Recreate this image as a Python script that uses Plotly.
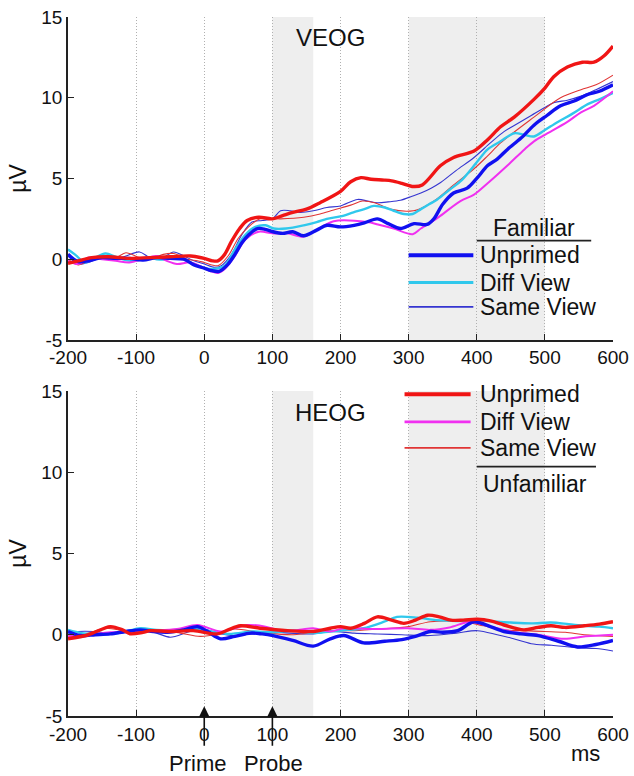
import plotly.graph_objects as go

# ---------------- DATA ----------------
# VEOG (top panel)
veog_fam_unp_t = [-200,-185,-170,-150,-130,-110,-90,-70,-50,-30,-15,0,10,22,35,45,55,65,78,90,101,115,130,146,165,180,200,220,235,254,270,288,308,327,337,350,366,386,400,416,430,445,465,484,503,523,543,563,580,600]
veog_fam_unp_v = [0.3,-0.15,-0.1,0.1,0.05,0.05,-0.05,0.1,0.05,0.0,-0.35,-0.55,-0.7,-0.75,-0.3,0.3,1.0,1.5,1.9,1.85,1.7,1.6,1.7,1.45,1.8,2.1,2.0,2.1,2.25,2.5,2.2,1.9,2.2,2.15,2.5,3.4,4.1,4.4,5.0,5.8,6.2,6.8,7.5,8.3,8.9,9.5,9.8,10.2,10.4,10.8]

veog_fam_diff_t = [-200,-190,-175,-160,-145,-130,-115,-100,-85,-70,-55,-40,-25,-10,0,15,30,45,60,75,90,102,120,146,165,180,200,219,235,249,265,278,293,306,318,330,342,360,378,400,416,435,455,470,484,500,519,540,563,580,600]
veog_fam_diff_v = [0.6,0.3,-0.2,0.1,0.35,0.15,-0.05,-0.1,0.1,0.0,0.0,0.15,-0.1,-0.4,-0.55,-0.6,-0.4,0.6,1.5,2.0,2.1,1.9,1.9,2.1,2.3,2.5,2.65,2.9,3.1,3.3,3.2,3.0,2.8,2.8,3.1,3.4,3.7,4.3,4.9,6.0,6.8,7.3,7.8,7.7,7.6,8.0,8.5,9.0,9.6,9.9,10.3]

veog_fam_same_t = [-200,-185,-170,-150,-130,-115,-95,-80,-65,-45,-30,-15,0,15,25,40,55,70,85,100,112,126,141,160,180,200,225,240,254,270,288,305,318,333,347,370,396,420,440,460,480,500,514,533,553,575,600]
veog_fam_same_v = [0.2,-0.3,-0.2,0.1,0.0,0.2,0.45,0.1,0.0,0.45,0.2,-0.1,-0.3,-0.5,-0.4,0.3,1.5,2.3,2.4,2.5,3.0,3.0,2.9,3.0,3.2,3.3,3.7,3.6,3.5,3.55,3.65,3.9,4.1,4.4,4.75,5.5,6.3,7.2,7.9,8.4,8.9,9.4,9.7,9.85,10.1,10.5,11.0]

veog_unf_unp_t = [-200,-185,-165,-140,-110,-80,-50,-20,0,12,20,30,40,52,63,80,100,115,130,150,170,200,215,230,245,264,275,290,307,320,347,366,396,416,435,455,484,500,513,533,555,572,587,600]
veog_unf_unp_v = [-0.25,-0.1,0.1,0.15,0.05,0.1,0.15,0.2,0.05,-0.1,-0.1,0.3,1.1,1.9,2.4,2.6,2.5,2.7,2.9,3.1,3.5,4.2,4.8,5.05,4.95,4.9,4.85,4.7,4.5,4.6,5.8,6.3,6.7,7.4,8.2,8.8,9.9,10.6,11.3,11.9,12.2,12.2,12.6,13.2]

veog_unf_diff_t = [-200,-185,-170,-150,-130,-110,-90,-70,-55,-40,-20,0,10,20,30,45,60,80,100,122,146,165,190,239,255,278,306,318,337,347,376,396,416,445,470,484,500,533,553,572,600]
veog_unf_diff_v = [-0.1,-0.3,0.1,0.0,-0.1,-0.2,0.0,0.2,-0.1,-0.3,-0.2,-0.55,-0.75,-0.85,-0.6,0.2,1.2,1.7,1.6,1.6,1.4,1.8,2.35,2.3,2.15,1.9,1.55,1.9,2.4,2.7,3.6,4.0,4.7,5.8,6.8,7.3,7.7,8.5,9.1,9.5,10.4]

veog_unf_same_t = [-200,-185,-170,-150,-130,-115,-95,-80,-60,-45,-25,-10,0,20,35,50,65,82,112,146,170,190,215,232,250,273,307,325,342,366,396,416,435,484,523,553,575,600]
veog_unf_same_v = [0.0,-0.35,-0.1,0.2,0.1,0.4,0.1,0.0,0.3,0.35,0.0,-0.1,-0.2,-0.4,0.2,1.3,2.0,2.5,2.5,2.6,2.8,3.05,3.35,3.6,3.5,3.1,3.0,3.3,3.75,4.6,5.6,6.4,7.2,8.8,10.0,10.5,10.8,11.4]

# HEOG (bottom panel)
heog_fam_unp_t = [-200,-182,-160,-138,-115,-94,-75,-54,-30,-10,5,24,45,68,85,101,130,160,185,205,234,265,290,310,332,350,372,396,420,440,465,490,520,548,575,600]
heog_fam_unp_v = [0.2,-0.05,0.0,0.05,0.2,0.3,0.2,0.15,0.3,0.5,0.2,-0.25,-0.1,0.1,0.05,-0.05,-0.35,-0.7,-0.25,-0.05,-0.5,-0.4,-0.3,-0.1,0.2,0.15,0.25,0.8,0.5,0.2,0.05,-0.05,-0.4,-0.75,-0.6,-0.35]

heog_fam_diff_t = [-200,-180,-160,-138,-115,-94,-70,-40,-16,10,34,50,72,100,131,160,185,210,234,264,283,313,340,370,401,430,450,480,509,535,558,580,600]
heog_fam_diff_v = [0.3,0.1,0.05,0.05,0.2,0.4,0.3,0.25,0.35,0.2,0.05,0.1,0.2,0.15,0.25,0.1,0.2,0.3,0.4,0.8,1.1,1.05,0.9,0.85,0.9,0.8,0.75,0.7,0.75,0.65,0.55,0.5,0.4]

heog_fam_same_t = [-200,-185,-163,-140,-115,-94,-70,-50,-25,-6,20,43,70,93,125,160,185,220,254,290,332,370,401,430,450,480,510,548,575,600]
heog_fam_same_v = [0.1,0.2,0.2,0.1,0.2,0.3,0.1,-0.15,0.15,0.4,0.1,-0.05,0.05,0.2,0.1,0.05,0.2,0.1,0.05,0.0,-0.05,0.1,0.25,0.0,-0.2,-0.55,-0.65,-0.8,-0.85,-1.0]

heog_unf_unp_t = [-200,-170,-138,-120,-109,-90,-79,-50,-16,19,35,53,82,122,160,185,200,215,235,254,275,293,310,328,345,362,380,401,420,440,469,490,509,530,558,580,600]
heog_unf_unp_v = [-0.25,0.0,0.5,0.3,0.06,0.15,0.25,0.2,0.25,0.05,0.3,0.55,0.4,0.25,0.2,0.4,0.5,0.4,0.7,1.1,0.9,0.7,0.9,1.2,1.1,0.9,0.9,0.95,0.85,0.6,0.3,0.45,0.55,0.45,0.55,0.65,0.8]

heog_unf_diff_t = [-200,-170,-138,-100,-75,-40,-10,24,45,63,90,112,140,160,185,205,244,298,332,360,391,420,450,490,528,560,600]
heog_unf_diff_v = [-0.1,0.0,0.15,0.2,0.25,0.35,0.6,0.2,0.4,0.6,0.5,0.25,0.3,0.4,0.2,0.4,0.35,0.4,0.3,0.45,0.8,0.5,0.2,0.0,-0.25,-0.1,0.0]

heog_unf_same_t = [-200,-170,-145,-113,-90,-65,-35,-6,20,43,82,131,180,220,259,300,332,381,410,440,470,499,530,558,600]
heog_unf_same_v = [-0.1,0.1,0.4,0.2,0.15,0.25,0.1,-0.1,0.05,0.35,0.15,0.0,0.25,0.25,0.35,0.5,0.8,0.8,0.55,0.3,0.25,0.2,0.15,0.0,-0.1]

x_ticks = [-200, -100, 0, 100, 200, 300, 400, 500, 600]
x_tick_labels = ["-200", "-100", "0", "100", "200", "300", "400", "500", "600"]
y_ticks = [-5, 0, 5, 10, 15]
y_tick_labels = ["-5", "0", "5", "10", "15"]
shade_windows = [(100, 160), (300, 500)]
cond_labels = ["Unprimed", "Diff View", "Same View"]

# ---------------- STYLE ----------------
FONT = "Liberation Sans, Arial, sans-serif"
C_BLUE = "#1010f0"
C_CYAN = "#30c8ec"
C_BLUE_THIN = "#3535d0"
C_RED = "#f01515"
C_MAG = "#f030f0"
C_RED_THIN = "#e03535"

styles = {
    "fam_same": dict(color=C_BLUE_THIN, width=1.1),
    "unf_same": dict(color=C_RED_THIN, width=1.1),
    "fam_diff": dict(color=C_CYAN, width=2.4),
    "unf_diff": dict(color=C_MAG, width=2.0),
    "fam_unp": dict(color=C_BLUE, width=3.4),
    "unf_unp": dict(color=C_RED, width=3.4),
}

fig = go.Figure()

panels = [
    ("x", "y", {
        "fam_same": (veog_fam_same_t, veog_fam_same_v),
        "unf_same": (veog_unf_same_t, veog_unf_same_v),
        "fam_diff": (veog_fam_diff_t, veog_fam_diff_v),
        "unf_diff": (veog_unf_diff_t, veog_unf_diff_v),
        "fam_unp": (veog_fam_unp_t, veog_fam_unp_v),
        "unf_unp": (veog_unf_unp_t, veog_unf_unp_v),
    }),
    ("x2", "y2", {
        "fam_same": (heog_fam_same_t, heog_fam_same_v),
        "unf_same": (heog_unf_same_t, heog_unf_same_v),
        "fam_diff": (heog_fam_diff_t, heog_fam_diff_v),
        "unf_diff": (heog_unf_diff_t, heog_unf_diff_v),
        "fam_unp": (heog_fam_unp_t, heog_fam_unp_v),
        "unf_unp": (heog_unf_unp_t, heog_unf_unp_v),
    }),
]

for xa, ya, series in panels:
    for key in ["fam_same", "unf_same", "fam_diff", "unf_diff", "fam_unp", "unf_unp"]:
        t, v = series[key]
        fig.add_trace(go.Scatter(x=t, y=v, mode="lines", xaxis=xa, yaxis=ya,
                                 line=dict(color=styles[key]["color"], width=styles[key]["width"],
                                           shape="spline", smoothing=0.9),
                                 showlegend=False, hoverinfo="skip"))

shapes = []
for yref in ["y domain", "y2 domain"]:
    xref = "x" if yref.startswith("y ") else "x2"
    for a, b in shade_windows:
        shapes.append(dict(type="rect", xref=xref, yref=yref, x0=a, x1=b, y0=0, y1=1,
                           fillcolor="#eeeeee", line=dict(width=0), layer="below"))

annotations = []
# panel titles
annotations.append(dict(x=185, y=13.7, xref="x", yref="y", text="VEOG", showarrow=False,
                        font=dict(family=FONT, size=24, color="#111")))
annotations.append(dict(x=185, y=13.7, xref="x2", yref="y2", text="HEOG", showarrow=False,
                        font=dict(family=FONT, size=24, color="#111")))

LEG_FONT = dict(family=FONT, size=23, color="#111")
# top legend (Familiar)
top_rows = [0.25, -1.45, -2.95]
top_keys = ["fam_unp", "fam_diff", "fam_same"]
for lbl, yv, key in zip(cond_labels, top_rows, top_keys):
    shapes.append(dict(type="line", xref="x", yref="y", x0=300, x1=395, y0=yv, y1=yv,
                       line=dict(color=styles[key]["color"], width=styles[key]["width"] + 0.6)))
    annotations.append(dict(x=402, y=yv, xref="x", yref="y", text=lbl, showarrow=False,
                            xanchor="left", yanchor="middle", font=LEG_FONT))
annotations.append(dict(x=484, y=1.95, xref="x", yref="y", text="Familiar", showarrow=False,
                        xanchor="center", yanchor="middle", font=LEG_FONT))
shapes.append(dict(type="line", xref="x", yref="y", x0=400, x1=568, y0=1.15, y1=1.15,
                   line=dict(color="#222", width=1.8)))

# bottom legend (Unfamiliar)
bot_rows = [14.8, 13.1, 11.5]
bot_keys = ["unf_unp", "unf_diff", "unf_same"]
for lbl, yv, key in zip(cond_labels, bot_rows, bot_keys):
    shapes.append(dict(type="line", xref="x2", yref="y2", x0=294, x1=391, y0=yv, y1=yv,
                       line=dict(color=styles[key]["color"], width=styles[key]["width"] + 0.6)))
    annotations.append(dict(x=402, y=yv, xref="x2", yref="y2", text=lbl, showarrow=False,
                            xanchor="left", yanchor="middle", font=LEG_FONT))
shapes.append(dict(type="line", xref="x2", yref="y2", x0=400, x1=575, y0=10.35, y1=10.35,
                   line=dict(color="#222", width=1.8)))
annotations.append(dict(x=485, y=9.3, xref="x2", yref="y2", text="Unfamiliar", showarrow=False,
                        xanchor="center", yanchor="middle", font=LEG_FONT))

# Prime / Probe arrows (tails below the axis, in paper units for y)
for tx in [0, 100]:
    annotations.append(dict(x=tx, y=-4.4, xref="x2", yref="y2", ax=0, ay=41,
                            text="", showarrow=True,
                            arrowhead=2, arrowsize=1.3, arrowwidth=1.6, arrowcolor="#111"))
annotations.append(dict(x=-10, y=-0.068, xref="x2", yref="paper", text="Prime", showarrow=False,
                        yanchor="middle", font=dict(family=FONT, size=22, color="#111")))
annotations.append(dict(x=101, y=-0.068, xref="x2", yref="paper", text="Probe", showarrow=False,
                        yanchor="middle", font=dict(family=FONT, size=22, color="#111")))
annotations.append(dict(x=560, y=-0.053, xref="x2", yref="paper", text="ms", showarrow=False,
                        yanchor="middle", font=dict(family=FONT, size=22, color="#111")))

axis_common = dict(range=[-200, 600], tickvals=x_ticks, ticktext=x_tick_labels,
                   showline=True, linecolor="#222", linewidth=1.5, ticks="inside",
                   ticklen=6, tickcolor="#222", showgrid=True, gridcolor="#b0b0b0",
                   griddash="1px,2px", gridwidth=1, zeroline=False, automargin=False,
                   tickfont=dict(family=FONT, size=19, color="#111"))
yaxis_common = dict(range=[-5, 15], tickvals=y_ticks, ticktext=y_tick_labels,
                    showline=True, linecolor="#222", linewidth=1.5, ticks="inside",
                    ticklen=6, tickcolor="#222", showgrid=False, zeroline=False,
                    automargin=False, tickfont=dict(family=FONT, size=19, color="#111"),
                    title=dict(text="µV", font=dict(family=FONT, size=23, color="#111"), standoff=8))

fig.update_layout(
    width=634, height=776, autosize=False,
    margin=dict(l=68, r=21, t=17, b=60),
    paper_bgcolor="white", plot_bgcolor="white",
    showlegend=False,
    xaxis=dict(axis_common, anchor="y", domain=[0, 1]),
    yaxis=dict(yaxis_common, anchor="x", domain=[0.538, 1]),
    xaxis2=dict(axis_common, anchor="y2", domain=[0, 1]),
    yaxis2=dict(yaxis_common, anchor="x2", domain=[0, 0.465]),
    shapes=shapes,
    annotations=annotations,
)

fig.write_html("out.html")
